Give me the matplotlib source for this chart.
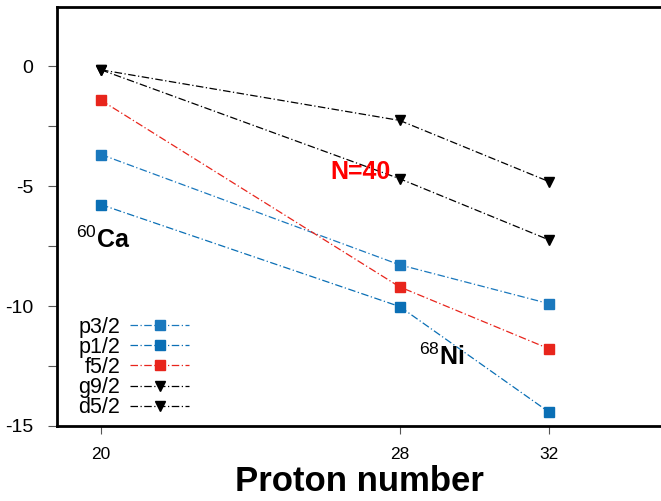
import matplotlib
matplotlib.use("Agg")
import matplotlib.pyplot as plt
from matplotlib.ticker import MultipleLocator

plt.rcParams['font.family'] = ['Liberation Sans', 'DejaVu Sans']
plt.rcParams['axes.unicode_minus'] = False
plt.rcParams['mathtext.fontset'] = 'custom'
plt.rcParams['mathtext.rm'] = 'Liberation Sans'
plt.rcParams['mathtext.bf'] = 'Liberation Sans:bold'

# Single-particle energies (MeV) for N=40 isotones
protons = [20, 28, 32]
p32 = [-3.68, -8.28, -9.90]
p12 = [-5.77, -10.02, -14.42]
f52 = [-1.42, -9.20, -11.78]
g92 = [-0.15, -4.69, -7.24]
d52 = [-0.15, -2.26, -4.81]

labels = ["p3/2", "p1/2", "f5/2", "g9/2", "d5/2"]
series = [p32, p12, f52, g92, d52]
colors = ["#1a78bd", "#0a6fb5", "#e8251c", "black", "black"]
markers = ["s", "s", "s", "v", "v"]

fig = plt.figure(figsize=(6.61, 5.01), dpi=100)
ax = fig.add_axes([57 / 661, 1 - 426 / 501, 604 / 661, 419 / 501])

for y, lab, c, m in zip(series, labels, colors, markers):
    ax.plot(protons, y, linestyle=(0, (6, 2, 1, 2)), linewidth=0.9, color=c,
            marker=m, markersize=7.5, markeredgecolor=c, markerfacecolor=c,
            label=lab)

ax.set_xlim(18.82, 35.0)
ax.set_ylim(-15, 2.47)
ax.set_xticks(protons)
ax.yaxis.set_major_locator(MultipleLocator(5))
ax.yaxis.set_minor_locator(MultipleLocator(2.5))
ax.tick_params(axis='both', which='both', direction='out',
               width=0.8, color='#555555')
ax.tick_params(axis='x', which='major', length=6, pad=9, labelsize=12.5)
ax.tick_params(axis='y', which='major', length=6.5, pad=10.5, labelsize=14)
ax.tick_params(axis='y', which='minor', length=6.5)
ax.spines['right'].set_visible(False)
for s in ['left', 'top', 'bottom']:
    ax.spines[s].set_linewidth(2)

ax.set_xlabel("Proton number", fontsize=25, fontweight='bold', labelpad=2)

ax.text(26.96, -4.41, "N=40", color='red', fontsize=18, fontweight='bold',
        ha='center', va='center')
ax.text(20.05, -7.25, r"$^{60}$Ca", fontsize=18, fontweight='bold',
        ha='center', va='center')
ax.text(29.12, -12.1, r"$^{68}$Ni", fontsize=18, fontweight='bold',
        ha='center', va='center')

ax.legend(loc='lower left', frameon=False, markerfirst=False, fontsize=15.5,
          handlelength=2.75, handletextpad=0.45, labelspacing=-0.04,
          borderaxespad=0.0, borderpad=0.3, bbox_to_anchor=(0.025, 0.003))

fig.savefig("out.png", dpi=100)
